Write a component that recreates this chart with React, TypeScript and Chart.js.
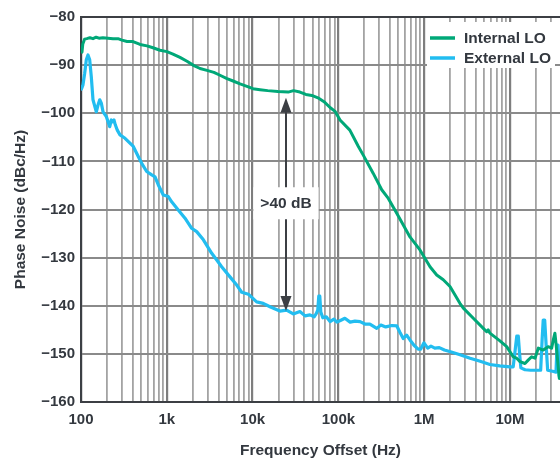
import React, { useEffect, useRef } from "react";
import { Chart, registerables } from "chart.js";

Chart.register(...registerables);

// ---------- data ----------
const internalFreq = [
  102.7, 105, 110, 117, 127, 138, 150, 162, 180, 206, 236, 270, 300, 344, 404, 488, 588, 690, 833, 1003,
  1180, 1425, 1720, 2070, 2440, 2940, 3540, 4170, 5030, 5930, 7140, 8600, 10100, 12200, 15000, 19700,
  26000, 30000, 35600, 41800, 49000, 57800, 68000, 80000, 91400, 104500, 136000, 171000, 195000, 255000,
  320000, 382000, 479000, 683000, 893000, 1170000, 1400000, 1670000, 2000000, 2610000, 2860000, 3740000,
  4890000, 5350000, 5580000, 5840000, 7640000, 9160000, 10900000, 11970000, 13100000, 14960000, 16300000,
  17900000, 19600000, 21400000, 24400000, 27900000, 30600000, 32000000, 33400000, 34400000, 35000000,
  35600000, 37600000,
];
const internalDb = [
  -87.3, -85.6, -84.6, -84.5, -84.3, -84.5, -84.2, -84.4, -84.3, -84.4, -84.5, -84.5, -84.8, -85.1, -85.1,
  -85.7, -86.0, -86.4, -86.9, -87.2, -87.7, -88.4, -89.2, -90.1, -90.7, -91.1, -91.5, -92.1, -92.8, -93.3,
  -93.9, -94.4, -94.9, -95.1, -95.3, -95.5, -95.6, -95.3, -95.6, -96.1, -96.3, -96.8, -97.6, -98.8, -99.6,
  -101.4, -103.5, -106.9, -108.7, -112.5, -115.9, -117.7, -120.8, -125.7, -128.4, -131.9, -133.6, -134.6,
  -136.0, -139.5, -140.5, -142.6, -144.7, -145.4, -145.0, -145.7, -147.3, -148.5, -150.6, -150.9, -151.6,
  -152.0, -151.3, -150.6, -150.9, -148.8, -149.2, -148.5, -148.8, -147.1, -145.7, -147.8, -149.2, -150.6,
  -155.1,
];

const externalFreq = [
  101, 105.5, 110.4, 115.3, 120.6, 126.3, 131.8, 138, 150.8, 157.9, 165.3, 172.5, 180.6, 197.4, 216.3,
  225.8, 232, 242.3, 251, 264.8, 284.8, 326, 407, 465, 510, 583, 668, 729, 797, 910, 1040, 1140, 1360,
  1630, 1950, 2230, 2670, 3340, 3820, 4360, 5450, 6530, 7470, 8930, 11140, 13300, 15940, 20800, 24900,
  29800, 35600, 40900, 46600, 52200, 55400, 57500, 59100, 60700, 62400, 65800, 72300, 80000, 88700, 96200,
  107000, 119000, 137000, 156000, 179000, 204000, 233000, 280000, 313000, 356000, 420000, 480000, 521000,
  570000, 625000, 683000, 761000, 850000, 913000, 994000, 1100000, 1200000, 1330000, 1500000, 1720000,
  2070000, 2620000, 3430000, 4400000, 5840000, 7600000, 10000000, 10900000, 11500000, 12000000, 12500000,
  12900000, 13400000, 15000000, 17400000, 20400000, 22800000, 23700000, 24400000, 25400000, 26400000,
  27500000, 31400000, 34400000, 35400000, 36400000, 37500000,
];
const externalDb = [
  -95.0, -94.1, -91.7, -88.9, -87.9, -88.9, -92.4, -97.2, -99.7, -98.3, -97.2, -97.9, -99.7, -100.7,
  -102.8, -101.4, -101.8, -101.4, -102.4, -103.5, -104.5, -105.2, -106.9, -109.0, -110.4, -112.1, -112.8,
  -113.2, -114.9, -117.0, -117.3, -118.4, -120.1, -121.8, -123.9, -124.6, -126.3, -129.1, -130.5, -131.9,
  -134.0, -135.7, -137.2, -137.6, -139.2, -139.5, -140.2, -141.1, -140.9, -141.7, -141.2, -142.1, -141.9,
  -142.3, -141.6, -140.9, -138.0, -138.0, -141.3, -142.5, -142.3, -143.3, -142.8, -143.4, -143.0, -142.6,
  -143.4, -143.2, -143.3, -143.8, -143.8, -144.7, -144.0, -144.4, -144.1, -144.2, -145.5, -146.8, -146.1,
  -147.1, -148.2, -149.0, -149.0, -147.7, -148.8, -148.4, -148.8, -148.7, -149.2, -149.6, -150.2, -150.9,
  -151.5, -152.2, -152.5, -152.7, -152.7, -149.2, -146.3, -146.3, -149.6, -152.9, -153.3, -153.4, -153.4,
  -153.4, -147.1, -143.0, -143.0, -148.2, -153.4, -153.6, -153.8, -148.2, -148.2, -154.6,
];

const seriesLabels = ["Internal LO", "External LO"];
const xTickValues = [1e2, 1e3, 1e4, 1e5, 1e6, 1e7];
const xTickLabels = ["100", "1k", "10k", "100k", "1M", "10M"];
const yTickValues = [-80, -90, -100, -110, -120, -130, -140, -150, -160];
const yTickLabels = ["\u221280", "\u221290", "\u2212100", "\u2212110", "\u2212120", "\u2212130", "\u2212140", "\u2212150", "\u2212160"];
const xMin = 100;
const xMax = 3.83e7;
const arrowFreq = 24500;
const arrowTopDb = -96.8;
const arrowBottomDb = -141.1;
const arrowLabelDb = -118.7;
const arrowLabel = ">40 dB";

// ---------- styles ----------
const GREEN = "#00a878";
const CYAN = "#22bdf0";
const TEXT = "#33383f";
const DARK = "#3c3f44";
const FONT = "'Liberation Sans', Arial, Helvetica, sans-serif";

const gridValues: number[] = [];
for (let e = 2; e <= 7; e++) {
  for (let m = 1; m <= 9; m++) {
    const v = m * Math.pow(10, e);
    if (v <= xMax) gridValues.push(v);
  }
}

const isDecade = (v: number) => xTickValues.some((d) => Math.abs(d - v) / d < 1e-6);

const legendPlugin = {
  id: "customLegend",
  afterDatasetsDraw(chart: any) {
    const { ctx } = chart;
    ctx.save();
    ctx.fillStyle = "#ffffff";
    ctx.fillRect(427, 22, 128, 46);
    const rows = [
      { y: 38, color: GREEN, label: seriesLabels[0] },
      { y: 58, color: CYAN, label: seriesLabels[1] },
    ];
    ctx.font = `bold 15.5px ${FONT}`;
    ctx.textBaseline = "middle";
    ctx.textAlign = "left";
    for (const r of rows) {
      ctx.strokeStyle = r.color;
      ctx.lineWidth = 3.5;
      ctx.beginPath();
      ctx.moveTo(430, r.y);
      ctx.lineTo(455, r.y);
      ctx.stroke();
      ctx.fillStyle = TEXT;
      ctx.fillText(r.label, 464, r.y + 0.5);
    }
    ctx.restore();
  },
};

const arrowPlugin = {
  id: "gapArrow",
  afterDatasetsDraw(chart: any) {
    const { ctx } = chart;
    const xs = chart.scales.x;
    const ys = chart.scales.y;
    const x = xs.getPixelForValue(arrowFreq);
    const yTop = ys.getPixelForValue(arrowTopDb);
    const yBot = ys.getPixelForValue(arrowBottomDb);
    const yLab = ys.getPixelForValue(arrowLabelDb);
    const headH = 15;
    const headW = 5.5;
    ctx.save();
    ctx.strokeStyle = DARK;
    ctx.fillStyle = DARK;
    ctx.lineWidth = 2;
    ctx.beginPath();
    ctx.moveTo(x, yTop + headH - 2);
    ctx.lineTo(x, yBot - headH + 2);
    ctx.stroke();
    ctx.beginPath();
    ctx.moveTo(x, yTop);
    ctx.lineTo(x - headW, yTop + headH);
    ctx.lineTo(x + headW, yTop + headH);
    ctx.closePath();
    ctx.fill();
    ctx.beginPath();
    ctx.moveTo(x, yBot);
    ctx.lineTo(x - headW, yBot - headH);
    ctx.lineTo(x + headW, yBot - headH);
    ctx.closePath();
    ctx.fill();
    ctx.font = `bold 15.5px ${FONT}`;
    const w = ctx.measureText(arrowLabel).width;
    ctx.fillStyle = "#ffffff";
    ctx.fillRect(x - w / 2 - 7, yLab - 16, w + 14, 32);
    ctx.fillStyle = TEXT;
    ctx.textAlign = "center";
    ctx.textBaseline = "middle";
    ctx.fillText(arrowLabel, x, yLab + 0.5);
    ctx.restore();
  },
};

export default function App() {
  const canvasRef = useRef<HTMLCanvasElement | null>(null);

  useEffect(() => {
    if (!canvasRef.current) return;
    const internalData = internalFreq.map((f, i) => ({ x: f, y: internalDb[i] }));
    const externalData = externalFreq.map((f, i) => ({ x: f, y: externalDb[i] }));
    const tickFont = { family: FONT, size: 15, weight: "bold" as const };
    const titleFont = { family: FONT, size: 15.5, weight: "bold" as const, lineHeight: 1 };

    const chart = new Chart(canvasRef.current, {
      type: "line",
      data: {
        datasets: [
          {
            label: seriesLabels[0],
            data: internalData,
            borderColor: GREEN,
            backgroundColor: GREEN,
            borderWidth: 3,
            pointRadius: 0,
            tension: 0,
            borderJoinStyle: "round",
            borderCapStyle: "round",
          },
          {
            label: seriesLabels[1],
            data: externalData,
            borderColor: CYAN,
            backgroundColor: CYAN,
            borderWidth: 3.2,
            pointRadius: 0,
            tension: 0,
            borderJoinStyle: "round",
            borderCapStyle: "round",
          },
        ],
      },
      options: {
        animation: false,
        responsive: false,
        layout: { padding: { top: 17, right: 0, bottom: 0, left: 0 } },
        plugins: {
          legend: { display: false },
          tooltip: { enabled: false },
        },
        scales: {
          x: {
            type: "logarithmic",
            min: xMin,
            max: xMax,
            afterBuildTicks: (scale: any) => {
              scale.ticks = gridValues.map((v) => ({ value: v, major: false }));
            },
            afterFit: (scale: any) => {
              scale.height = 56;
            },
            ticks: {
              autoSkip: false,
              maxRotation: 0,
              padding: 9,
              color: TEXT,
              font: tickFont,
              callback: (value: any) => {
                const idx = xTickValues.findIndex((d) => Math.abs(d - Number(value)) / d < 1e-6);
                return idx >= 0 ? xTickLabels[idx] : "";
              },
            },
            grid: {
              drawTicks: false,
              color: (c: any) => {
                const v = c.tick ? c.tick.value : 0;
                if (Math.abs(v - xMin) < 1e-6) return DARK;
                return isDecade(v) ? "#7e7e7e" : "#a3a3a3";
              },
              lineWidth: (c: any) => {
                const v = c.tick ? c.tick.value : 0;
                return isDecade(v) ? 2.2 : 1.8;
              },
            },
            border: { display: true, color: DARK, width: 2 },
            title: {
              display: true,
              text: "Frequency Offset (Hz)",
              color: TEXT,
              font: titleFont,
              padding: { top: 0, bottom: 0 },
            },
          },
          y: {
            type: "linear",
            min: -160,
            max: -80,
            afterBuildTicks: (scale: any) => {
              scale.ticks = yTickValues.map((v) => ({ value: v }));
            },
            afterFit: (scale: any) => {
              scale.width = 81;
            },
            ticks: {
              padding: 6,
              color: TEXT,
              font: tickFont,
              callback: (value: any) => {
                const idx = yTickValues.indexOf(Number(value));
                return idx >= 0 ? yTickLabels[idx] : "";
              },
            },
            grid: {
              drawTicks: false,
              color: (c: any) => {
                const v = c.tick ? c.tick.value : 0;
                return v === -80 || v === -160 ? DARK : "#8a8a8a";
              },
              lineWidth: 2,
            },
            border: { display: true, color: DARK, width: 2 },
            title: {
              display: true,
              text: "Phase Noise (dBc/Hz)",
              color: TEXT,
              font: titleFont,
              padding: { top: 13, bottom: 0 },
            },
          },
        },
      },
      plugins: [legendPlugin, arrowPlugin],
    } as any);

    return () => chart.destroy();
  }, []);

  return (
    <div style={{ position: "absolute", left: 0, top: 0, width: 560, height: 458, background: "#fff" }}>
      <canvas ref={canvasRef} width={560} height={458} style={{ display: "block", width: 560, height: 458 }} />
    </div>
  );
}
